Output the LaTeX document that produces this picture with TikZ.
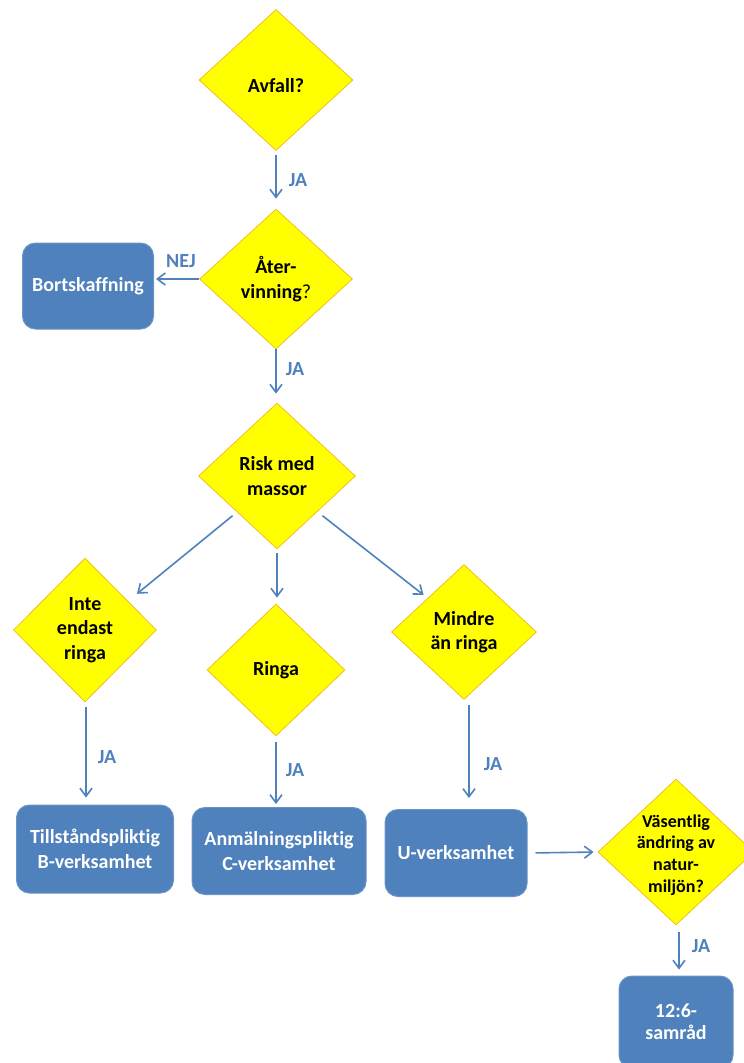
\documentclass[tikz,border=0pt]{standalone}
\usepackage{fontspec}
\setmainfont[Ligatures={NoCommon}]{Carlito}
\usetikzlibrary{shapes.geometric,arrows.meta}
\definecolor{boxblue}{HTML}{4F81BD}
\definecolor{diayellow}{HTML}{FFFF00}
\definecolor{diaedge}{HTML}{F0C020}

\begin{document}
\begin{tikzpicture}[x=1pt,y=-1pt,
	dia/.style={diamond,fill=diayellow,draw=diaedge,line width=0.8pt,inner sep=0pt},
	dtxt/.style={font=\fontsize{20}{24.4}\selectfont\bfseries,align=center,text=black},
	box/.style={rectangle,rounded corners=13pt,fill=boxblue,draw=boxblue!85!white,line width=1pt,text=white,font=\fontsize{20}{25}\selectfont\bfseries,align=center},
	arr/.style={-{Straight Barb[length=8pt,width=12pt]},draw=boxblue,line width=1.6pt},
	ja/.style={text=boxblue,font=\fontsize{20}{24}\selectfont\bfseries}]

		\clip (0,0) rectangle (744,1063);

		\node[dia,minimum width=154pt,minimum height=141pt,label={[dtxt,yshift=-6pt]center:Avfall?}] (d1) at (276,80) {};
		\node[dia,minimum width=153pt,minimum height=140pt,label={[dtxt]center:{Åter-\\vinning{\mdseries ?}}}] (d2) at (276,279) {};
		\node[dia,minimum width=157pt,minimum height=146pt,label={[dtxt]center:{Risk med\\massor}}] (d3) at (277,476) {};
		\node[dia,minimum width=143pt,minimum height=144pt,label={[dtxt]center:{Inte\\endast\\ringa}}] (d4) at (85,630) {};
		\node[dia,minimum width=138pt,minimum height=132pt,label={[dtxt]center:Ringa}] (d5) at (276,670) {};
		\node[dia,minimum width=145pt,minimum height=135pt,label={[dtxt]center:{Mindre\\än ringa}}] (d6) at (464,632) {};
		\node[dia,minimum width=156pt,minimum height=146pt,label={[dtxt,font=\fontsize{18}{21.7}\selectfont\bfseries,yshift=-3pt]center:{Väsentlig\\ändring av\\natur-\\miljön?}}] (d7) at (676,852) {};

		\node[box,minimum width=131pt,minimum height=86pt] (b1) at (88,286) {Bortskaffning};
		\node[box,minimum width=157pt,minimum height=88pt] (b2) at (95,849) {Tillståndspliktig\\B-verksamhet};
		\node[box,minimum width=174pt,minimum height=87pt] (b3) at (279,851) {Anmälningspliktig\\C-verksamhet};
		\node[box,minimum width=142pt,minimum height=87pt] (b4) at (456,853) {U-verksamhet};
		\node[box,minimum width=114pt,minimum height=92pt,font=\fontsize{20}{21.7}\selectfont\bfseries] (b5) at (676,1022) {12:6-\\samråd};

		\draw[arr,shorten <=4pt,shorten >=10pt] (d1.south) to (d2.north);
		\draw[arr,shorten >=2pt] (d2.west) to (d2.west -| b1.east);
		\draw[arr,shorten >=9pt] (d2.south) to (d2.south |- d3.north);
		\draw[arr] ([shift={(-5,3)}]d3.south west) to ([xshift=16]d4.north east);
		\draw[arr,shorten <=4pt,shorten >=6pt] (d3.south) to (d3.south |- d5.north);
		\draw[arr,shorten >=5pt] ([shift={(6,3)}]d3.south east) to (d6.north west);
		\draw[arr,shorten <=5pt,shorten >=7pt] ([xshift=1]d4.south) to ([xshift=1]d4.south |- b2.north);
		\draw[arr,shorten <=6pt,shorten >=3pt] (d5.south) to (d5.south |- b3.north);
		\draw[arr,shorten <=5pt,shorten >=11pt] ([xshift=5]d6.south) to ([xshift=5]d6.south |- b4.north);
		\draw[arr,shorten <=8pt,shorten >=4pt] (b4.east) to (d7.west);
		\draw[arr,shorten <=7pt,shorten >=6pt] ([xshift=3]d7.south) to ([xshift=3]d7.south |- b5.north);

		\node[ja] (l1) at (298,180) {JA};
		\node[ja] (l2) at (181,261) {NEJ};
		\node[ja] (l3) at (295,369) {JA};
		\node[ja] (l4) at (107,757) {JA};
		\node[ja] (l5) at (295,770) {JA};
		\node[ja] (l6) at (493,764) {JA};
		\node[ja] (l7) at (701,946) {JA};

	\end{tikzpicture}
\end{document}
